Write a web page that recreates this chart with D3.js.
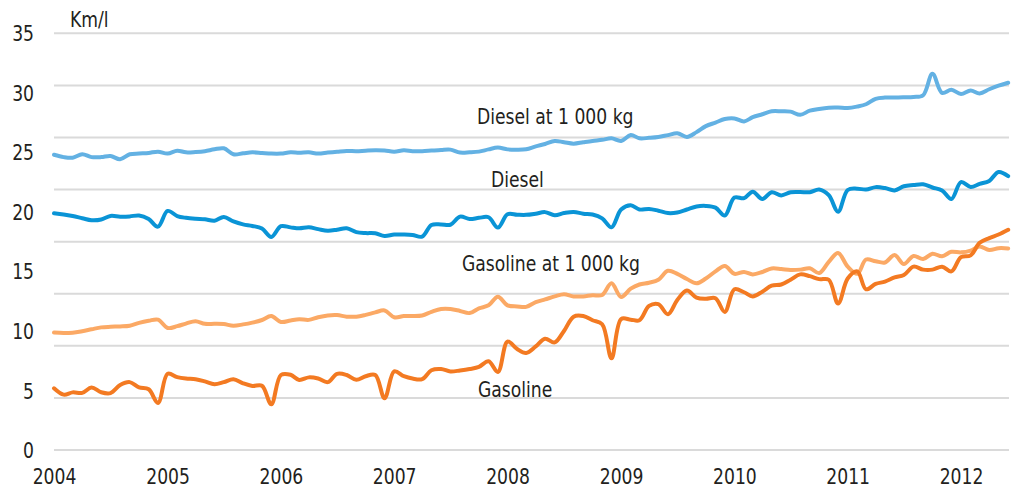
<!DOCTYPE html>
<html>
<head>
<meta charset="utf-8">
<script src="https://cdn.jsdelivr.net/npm/d3@7"></script>
<style>
  html, body { margin: 0; padding: 0; background: #fff; }
  svg text { font-family: "Liberation Sans Narrow", "DejaVu Sans Condensed", "Arial Narrow", sans-serif; fill: #231f20; }
  .grid line { stroke: #dadada; stroke-width: 2; }
  .series { fill: none; stroke-width: 4; stroke-linejoin: round; stroke-linecap: round; }
</style>
</head>
<body>
<div id="chart"></div>
<script>

/*
 * Fuel economy, monthly, Jan 2004 - Jun 2012.
 */

// Months on the x axis.
var months = d3.timeMonth.range(new Date(2004, 0, 1), new Date(2012, 6, 1));

// Tick labels.
var yearTicks = [2004, 2005, 2006, 2007, 2008, 2009, 2010, 2011, 2012];
var valueTicks = [0, 5, 10, 15, 20, 25, 30, 35];

// Series labels.
var seriesNames = ['Diesel at 1 000 kg', 'Diesel', 'Gasoline at 1 000 kg', 'Gasoline'];

// Diesel at 1 000 kg.
var dieselHeavy = [
  24.8, 24.6, 24.55, 24.85, 24.6, 24.6, 24.7, 24.42, 24.84, 24.9, 24.95, 25.06,
  24.9, 25.14, 25.0, 25.03, 25.1, 25.26, 25.34, 24.84, 24.92, 25.0, 24.95, 24.9,
  24.9, 25.0, 24.97, 25.0, 24.9, 24.98, 25.05, 25.12, 25.1, 25.14, 25.17, 25.15,
  25.06, 25.17, 25.1, 25.1, 25.15, 25.2, 25.23, 24.98, 25.0, 25.06, 25.25, 25.4,
  25.25, 25.22, 25.26, 25.5, 25.7, 25.96, 25.85, 25.73, 25.85, 25.96, 26.05, 26.18,
  25.96, 26.46, 26.18, 26.22, 26.29, 26.45, 26.6, 26.3, 26.7, 27.2, 27.5, 27.8,
  27.85, 27.6, 27.95, 28.2, 28.45, 28.45, 28.42, 28.15, 28.5, 28.65, 28.75, 28.76,
  28.72, 28.85, 29.04, 29.5, 29.6, 29.6, 29.62, 29.65, 29.8, 31.6, 30.0, 30.25,
  29.9, 30.2, 29.95, 30.3, 30.6, 30.85
];

// Diesel.
var diesel = [
  19.88, 19.78, 19.65, 19.47, 19.3, 19.36, 19.66, 19.6, 19.62, 19.7, 19.4, 18.76,
  20.08, 19.65, 19.5, 19.42, 19.38, 19.26, 19.57, 19.2, 18.95, 18.82, 18.6, 17.89,
  18.8, 18.7, 18.62, 18.7, 18.55, 18.42, 18.5, 18.62, 18.3, 18.22, 18.2, 17.98,
  18.1, 18.1, 18.06, 17.92, 18.9, 18.95, 18.92, 19.6, 19.4, 19.5, 19.55, 18.68,
  19.8, 19.76, 19.75, 19.85, 19.98, 19.72, 19.9, 20.0, 19.85, 19.78, 19.46, 18.7,
  20.2, 20.55, 20.2, 20.25, 20.1, 19.9, 19.95, 20.2, 20.45, 20.5, 20.36, 19.7,
  21.2, 21.15, 21.7, 21.08, 21.65, 21.38, 21.65, 21.67, 21.65, 21.88, 21.4, 20.02,
  21.84, 21.95, 21.88, 22.08, 22.0, 21.8, 22.15, 22.25, 22.32, 22.05, 21.8, 21.08,
  22.5, 22.1, 22.35, 22.6, 23.35, 23.0
];

// Gasoline at 1 000 kg.
var gasolineHeavy = [
  9.86, 9.82, 9.85, 9.98, 10.14, 10.3, 10.35, 10.38, 10.44, 10.68, 10.85, 10.95,
  10.25, 10.4, 10.62, 10.82, 10.6, 10.6, 10.58, 10.44, 10.55, 10.7, 10.92, 11.25,
  10.75, 10.88, 10.98, 10.93, 11.15, 11.3, 11.33, 11.2, 11.2, 11.35, 11.56, 11.72,
  11.15, 11.25, 11.25, 11.3, 11.6, 11.84, 11.84, 11.68, 11.5, 11.9, 12.15, 12.88,
  12.15, 12.06, 12.02, 12.42, 12.65, 12.9, 13.08, 12.9, 12.9, 13.0, 13.02, 14.0,
  12.85, 13.55, 13.9, 14.05, 14.3, 15.05, 14.8, 14.36, 14.0, 14.4, 15.0, 15.45,
  14.8, 14.96, 14.75, 14.95, 15.25, 15.2, 15.12, 15.15, 15.26, 14.86, 15.8, 16.55,
  15.4, 14.8, 16.0, 15.85, 15.75, 16.38, 15.62, 16.3, 16.04, 16.49, 16.27, 16.65,
  16.6, 16.75, 17.1, 16.8, 16.95, 16.93
];

// Gasoline.
var gasoline = [
  5.18, 4.65, 4.84, 4.8, 5.25, 4.85, 4.78, 5.45, 5.7, 5.25, 5.1, 3.95,
  6.4, 6.12, 6.0, 5.94, 5.76, 5.52, 5.7, 5.95, 5.6, 5.38, 5.4, 3.84,
  6.3, 6.32, 5.88, 6.1, 6.0, 5.7, 6.4, 6.3, 5.9, 6.2, 6.3, 4.34,
  6.6, 6.2, 6.0, 5.95, 6.7, 6.8, 6.6, 6.68, 6.8, 6.98, 7.45, 6.55,
  9.1, 8.48, 8.15, 8.7, 9.35, 9.04, 10.0, 11.2, 11.25, 10.9, 10.56, 7.7,
  11.0, 10.95, 10.9, 12.1, 12.25, 11.4, 12.6, 13.4, 12.8, 12.7, 12.75, 11.6,
  13.5, 13.25, 12.9, 13.3, 13.8, 13.9, 14.3, 14.75, 14.6, 14.35, 14.3, 12.3,
  14.4, 15.0, 13.5, 13.95, 14.15, 14.5, 14.7, 15.4, 15.15, 15.15, 15.4, 15.0,
  16.2, 16.35, 17.4, 17.8, 18.1, 18.5
];

// Chart size.
var width = 1016;
var height = 491;

// Text size and horizontal squeeze (the original uses a condensed face).
var fontSize = 21;
var squeeze = 'scale(0.91,1)';

// Scales.
var x = d3.scaleTime()
  .domain([new Date(2004, 0, 1), new Date(2012, 0, 1)])
  .range([54, 961]);

var y = d3.scaleLinear()
  .domain([0, 35])
  .range([450, 33.3]);

var plotRight = 1009;

// Create SVG element.
var svg = d3.select('#chart').append('svg')
  .attr('width', width)
  .attr('height', height);

// Gridlines (eight even bands across the full value range).
svg.append('g')
  .attr('class', 'grid')
  .selectAll('line')
  .data(d3.range(0, 9))
  .join('line')
  .attr('x1', x.range()[0])
  .attr('x2', plotRight)
  .attr('y1', function(d) { return y(d * 35 / 8); })
  .attr('y2', function(d) { return y(d * 35 / 8); });

// Value axis labels.
svg.append('g')
  .attr('transform', 'translate(34,0)')
  .call(d3.axisLeft(y).tickValues(valueTicks).tickSize(0).tickPadding(0))
  .call(function(g) { g.select('.domain').remove(); })
  .selectAll('text')
  .attr('font-size', fontSize)
  .attr('dy', '0.36em')
  .attr('transform', squeeze);

// Year axis labels.
svg.append('g')
  .attr('transform', 'translate(0,469)')
  .call(d3.axisBottom(x)
    .tickValues(yearTicks.map(function(yr) { return new Date(yr, 0, 1); }))
    .tickFormat(d3.timeFormat('%Y'))
    .tickSize(0)
    .tickPadding(0))
  .call(function(g) { g.select('.domain').remove(); })
  .selectAll('text')
  .attr('font-size', fontSize)
  .attr('dy', '0.72em')
  .attr('transform', squeeze);

// Line generator.
var line = d3.line()
  .x(function(d, i) { return x(months[i]); })
  .y(function(d) { return y(d); })
  .curve(d3.curveCatmullRom.alpha(0.5));

// Series, drawn back to front.
var series = [
  { values: gasolineHeavy, color: '#fba965' },
  { values: gasoline, color: '#f37a22' },
  { values: dieselHeavy, color: '#63b1e3' },
  { values: diesel, color: '#0a94d6' }
];

svg.append('g')
  .selectAll('path')
  .data(series)
  .join('path')
  .attr('class', 'series')
  .attr('stroke', function(d) { return d.color; })
  .attr('d', function(d) { return line(d.values); });

// Unit label and series labels.
var labelSpots = [
  { name: 'Km/l', x: 70, y: 27 },
  { name: seriesNames[0], x: 477, y: 124 },
  { name: seriesNames[1], x: 491, y: 187 },
  { name: seriesNames[2], x: 462, y: 271 },
  { name: seriesNames[3], x: 478, y: 397 }
];

svg.append('g')
  .selectAll('text')
  .data(labelSpots)
  .join('text')
  .attr('transform', function(d) { return 'translate(' + d.x + ',' + d.y + ') ' + squeeze; })
  .attr('font-size', fontSize)
  .text(function(d) { return d.name; });

</script>
</body>
</html>
